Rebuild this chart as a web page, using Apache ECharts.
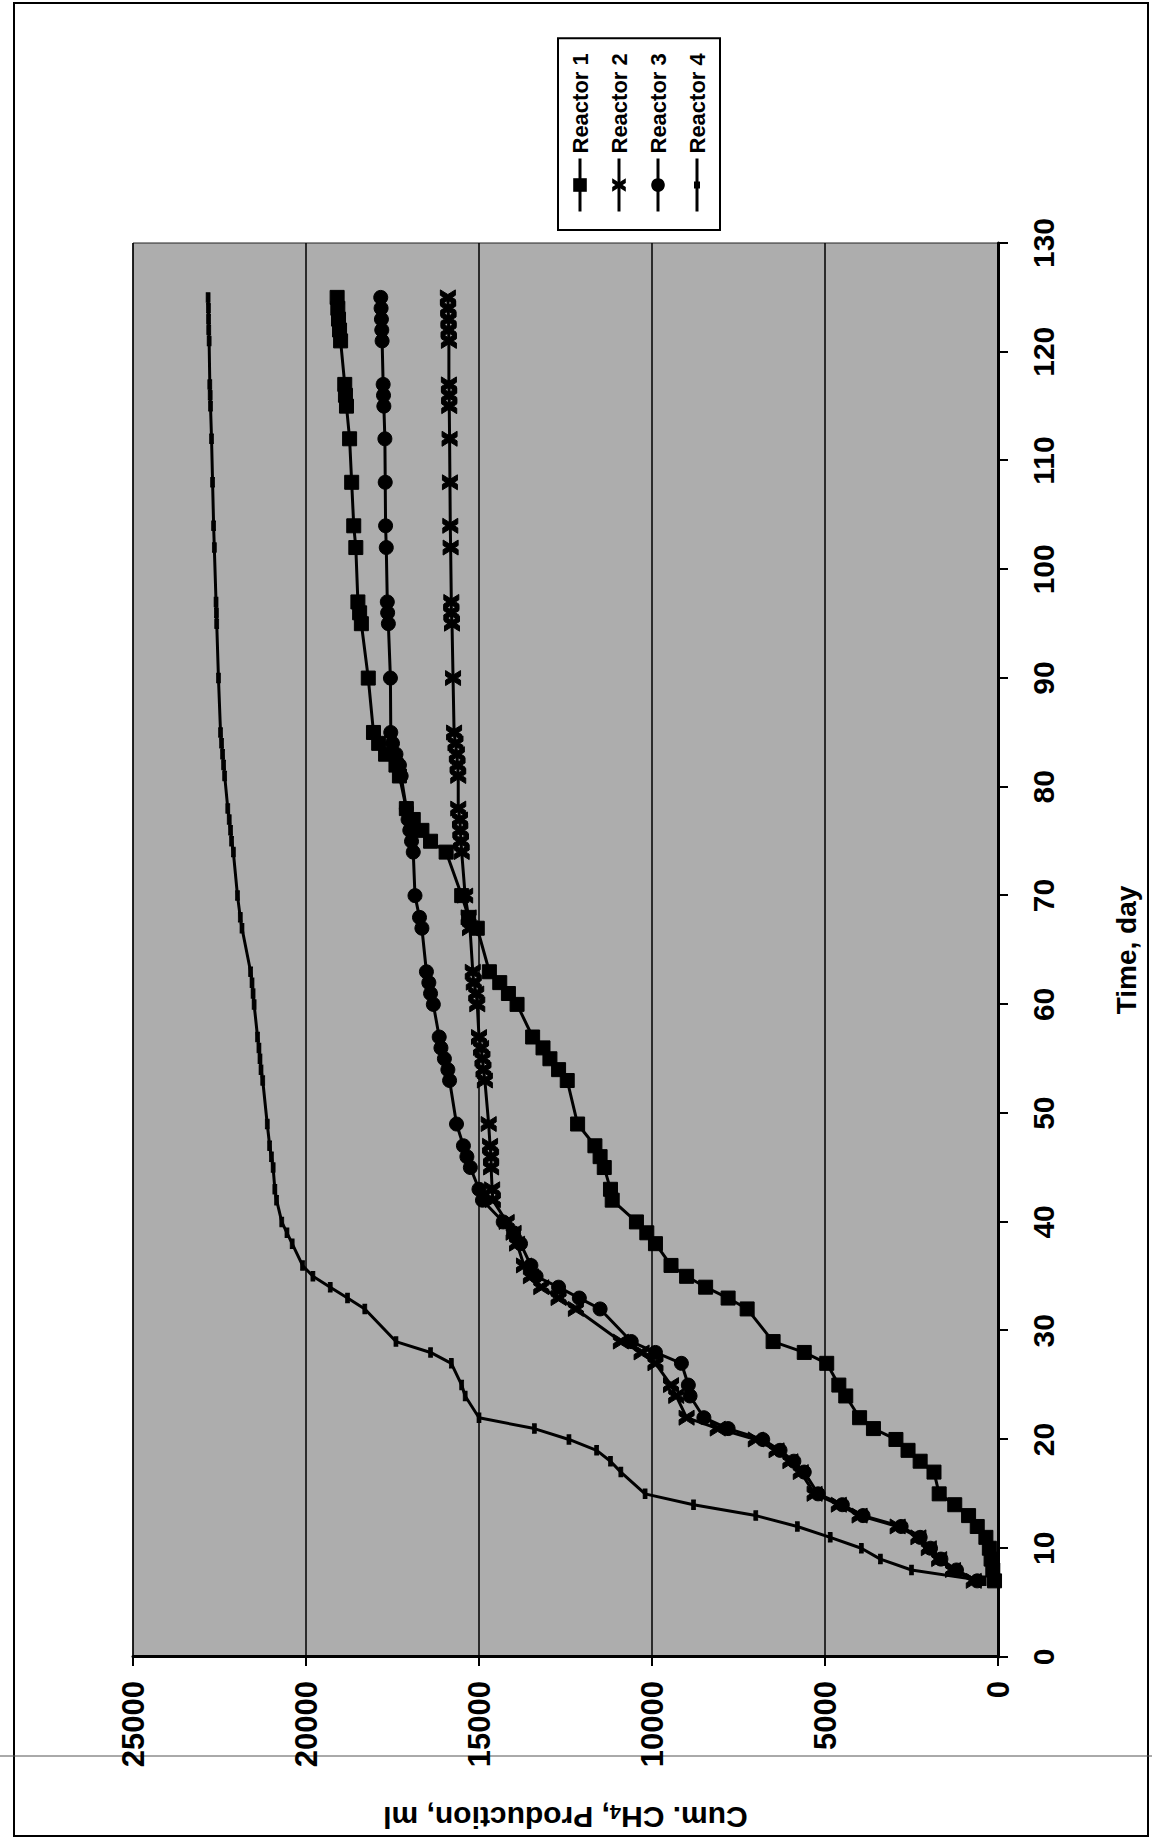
<!DOCTYPE html>
<html><head><meta charset="utf-8">
<script src="https://cdn.jsdelivr.net/npm/echarts@6/dist/echarts.min.js"></script>
<style>
html,body{margin:0;padding:0;background:#fff;}
#page{position:relative;width:1152px;height:1842px;overflow:hidden;background:#fff;}
#chart{position:absolute;left:0;top:0;width:1842px;height:1152px;transform-origin:0 0;transform:translate(0px,1842px) rotate(-90deg);}
</style></head><body>
<div id="page"><div id="chart"></div></div>
<script>
// Time, day (shared sampling days)
const days = [7,8,9,10,11,12,13,14,15,17,18,19,20,21,22,24,25,27,28,29,32,33,34,35,36,38,39,40,42,43,45,46,47,49,53,54,55,56,57,60,61,62,63,67,68,70,74,75,76,77,78,81,82,83,84,85,90,95,96,97,102,104,108,112,115,116,117,121,122,123,124,125];
// Cum. CH4 production, ml
const reactor1 = [100,150,200,250,350,600,850,1250,1700,1850,2250,2600,2950,3600,4000,4400,4600,4950,5600,6500,7250,7800,8450,9000,9450,9900,10150,10450,11150,11200,11380,11500,11650,12150,12450,12700,12950,13150,13450,13900,14150,14400,14700,15050,15300,15500,15950,16400,16650,16900,17100,17300,17400,17700,17900,18050,18200,18400,18450,18500,18560,18620,18680,18740,18830,18860,18880,19000,19030,19060,19080,19100];
const reactor2 = [700,1300,1700,2000,2300,2900,4000,4600,5300,5700,6000,6400,7000,8100,9000,9300,9450,9900,10300,10900,12200,12700,13200,13500,13700,13900,14000,14200,14600,14620,14650,14650,14680,14720,14830,14870,14900,14940,15000,15050,15080,15150,15180,15260,15300,15400,15500,15520,15540,15550,15600,15600,15620,15640,15680,15720,15750,15780,15800,15800,15820,15830,15840,15850,15860,15860,15870,15870,15880,15880,15890,15900];
const reactor3 = [600,1200,1650,1950,2250,2800,3900,4500,5200,5600,5900,6300,6800,7800,8500,8900,8950,9150,9900,10600,11500,12100,12700,13350,13500,13800,14000,14300,14900,15000,15250,15350,15450,15650,15850,15900,16000,16100,16150,16320,16400,16450,16520,16650,16720,16850,16900,16950,17000,17050,17100,17250,17300,17400,17500,17550,17560,17620,17640,17650,17680,17700,17710,17720,17750,17760,17770,17800,17810,17820,17830,17840];
const reactor4 = [400,2500,3400,3950,4850,5800,7000,8800,10200,10900,11200,11600,12400,13400,15000,15400,15500,15800,16400,17400,18300,18800,19300,19800,20100,20400,20550,20700,20850,20900,20950,21000,21050,21120,21250,21300,21330,21360,21400,21500,21530,21560,21600,21850,21900,21980,22100,22150,22180,22220,22260,22350,22380,22410,22440,22470,22530,22580,22590,22600,22650,22670,22700,22730,22760,22770,22780,22800,22810,22815,22820,22830];
const seriesNames = ['Reactor 1','Reactor 2','Reactor 3','Reactor 4'];
const timeAxis = {min:0, max:130, interval:10};
const ch4Axis = {min:0, max:25000, interval:5000};

const FONT = "'Liberation Sans', Arial, Helvetica, sans-serif";
const crossPath = 'path://M0,0 L3.6,0 L5,2.3 L6.4,0 L10,0 L6.9,5 L10,10 L6.4,10 L5,7.7 L3.6,10 L0,10 L3.1,5 Z';
const dashLegendIcon = 'path://M0,0 L0.01,0 L0.01,0.01 Z M0,7 L53,7 L53,10 L0,10 Z M23,5.5 L30,5.5 L30,11.5 L23,11.5 Z M52.99,17 L53,17 L53,16.99 Z';
const toPts = arr => days.map((d,i)=>[d, arr[i]]);

const chart = echarts.init(document.getElementById('chart'), null, {renderer:'svg', width:1842, height:1152});
const baseLine = {type:'line', lineStyle:{color:'#000', width:3}, itemStyle:{color:'#000', borderColor:'#000'}, emphasis:{disabled:true}, z:3};
chart.setOption({
  animation:false,
  backgroundColor:'#fff',
  textStyle:{fontFamily:FONT, color:'#000'},
  grid:{left:185, right:243, top:133, bottom:154, containLabel:false, show:true, backgroundColor:'#adadad', borderColor:'#222', borderWidth:1},
  legend:{
    data:[{name:seriesNames[0]},{name:seriesNames[1]},{name:seriesNames[2]},{name:seriesNames[3], icon:dashLegendIcon}],
    orient:'vertical', left:1612, top:558,
    padding:[11,15,12,17], itemGap:17, itemWidth:53, itemHeight:17,
    backgroundColor:'#fff', borderColor:'#000', borderWidth:2,
    lineStyle:{width:3, color:'#000'},
    textStyle:{fontFamily:FONT, fontWeight:'bold', fontSize:22, lineHeight:22, color:'#000'},
    selectedMode:false
  },
  xAxis:{
    type:'value', min:timeAxis.min, max:timeAxis.max, interval:timeAxis.interval,
    name:'Time, day', nameLocation:'middle', nameGap:114,
    nameTextStyle:{fontFamily:FONT, fontWeight:'bold', fontSize:28, color:'#000'},
    axisLine:{show:true, lineStyle:{color:'#000', width:3}},
    axisTick:{show:true, inside:false, length:10, lineStyle:{color:'#000', width:2}},
    axisLabel:{fontFamily:FONT, fontWeight:'bold', fontSize:30, color:'#000', margin:30},
    splitLine:{show:false}
  },
  yAxis:{
    type:'value', min:ch4Axis.min, max:ch4Axis.max, interval:ch4Axis.interval,
    name:'Cum. CH{sub|4}, Production, ml', nameLocation:'middle', nameGap:145,
    nameTextStyle:{fontFamily:FONT, fontWeight:'bold', fontSize:30, color:'#000',
      rich:{sub:{fontFamily:FONT, fontWeight:'bold', fontSize:20, color:'#000', verticalAlign:'bottom'}}},
    axisLine:{show:true, lineStyle:{color:'#000', width:3}},
    axisTick:{show:true, inside:false, length:9, lineStyle:{color:'#000', width:2}},
    axisLabel:{fontFamily:FONT, fontWeight:'bold', fontSize:31, color:'#000', margin:24, formatter:v=>String(v)},
    splitLine:{show:true, lineStyle:{color:'#000', width:1.5}}
  },
  graphic:[
    {type:'rect', shape:{x:6, y:14, width:1833, height:1134}, style:{fill:'none', stroke:'#000', lineWidth:2}, silent:true},
    {type:'line', shape:{x1:86, y1:0, x2:86, y2:1152}, style:{stroke:'#555', lineWidth:1}, silent:true}
  ],
  series:[
    Object.assign({}, baseLine, {name:seriesNames[0], data:toPts(reactor1), symbol:'rect', symbolSize:14}),
    Object.assign({}, baseLine, {name:seriesNames[1], data:toPts(reactor2), symbol:crossPath, symbolSize:15}),
    Object.assign({}, baseLine, {name:seriesNames[2], data:toPts(reactor3), symbol:'circle', symbolSize:14}),
    Object.assign({}, baseLine, {name:seriesNames[3], data:toPts(reactor4), symbol:'rect', symbolSize:[9,4]})
  ]
});
</script>
</body></html>
